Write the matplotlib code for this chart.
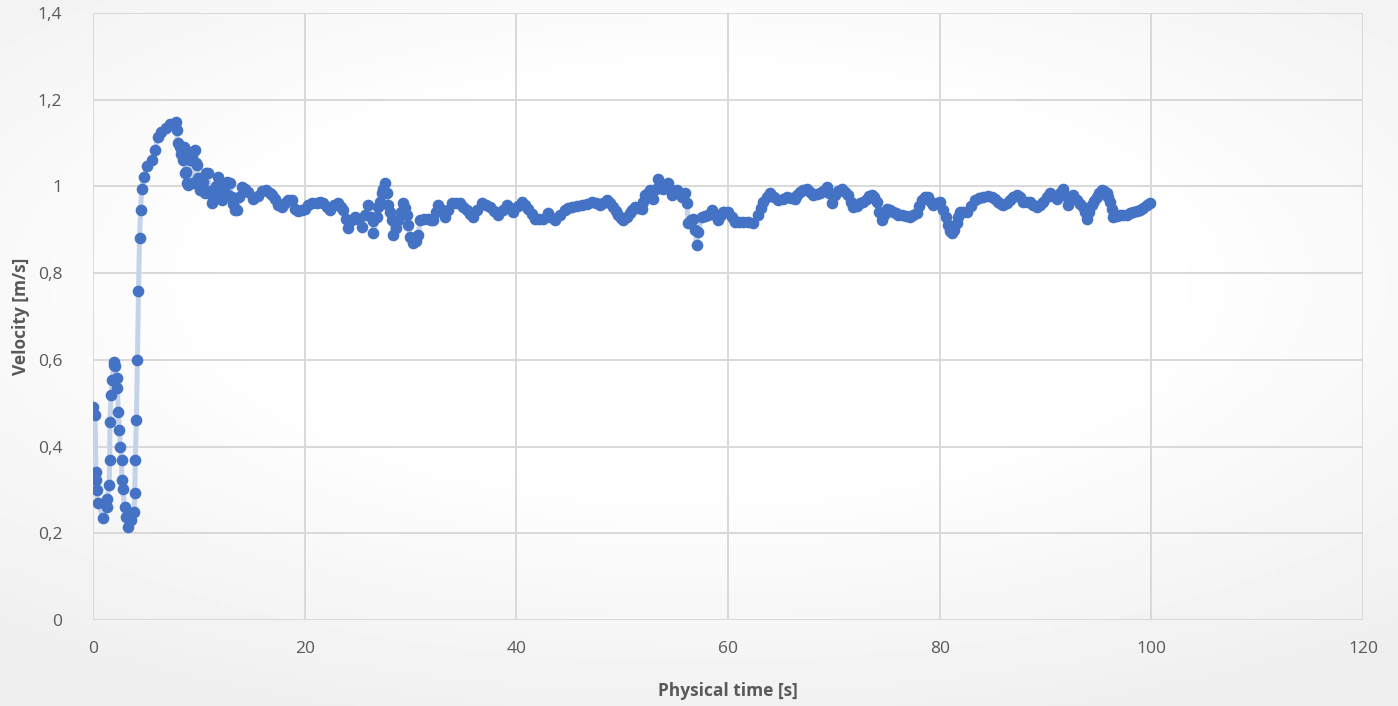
import matplotlib.pyplot as plt
import numpy as np

# time [s] and velocity [m/s] (first pass)
time_s = [
    0.03, 0.19, 0.28, 0.30, 0.35, 0.45, 0.97, 1.29, 1.34, 1.54, 1.58, 1.60, 1.70,
    1.80, 1.96, 2.00, 2.10, 2.25, 2.30, 2.40, 2.50, 2.60, 2.70, 2.72, 2.80, 3.00,
    3.15, 3.30, 3.60, 3.90, 3.95, 4.00, 4.10, 4.20, 4.30, 4.40, 4.50, 4.60, 4.80,
    5.10, 5.60, 5.90, 6.10, 6.40, 6.90, 7.30, 7.80, 7.90, 8.00, 8.20, 8.35, 8.50,
    8.70, 8.85, 9.20, 9.40, 9.60, 9.80, 10.1, 10.4, 10.7, 11.0, 11.2, 11.5, 11.8,
    12.0, 12.2, 12.5, 12.9, 13.1, 13.4,
    14.05, 14.68, 15.15, 15.94, 16.73, 17.2, 17.5, 18.14, 18.77, 19.09, 19.72,
    20.35, 21.14, 21.77, 22.4, 23.18, 23.66, 24.13, 24.76, 25.4, 26.0, 26.5,
    26.96, 27.27, 27.59, 27.74, 27.9, 28.22, 28.37, 28.85, 29.32, 29.63, 29.95,
    30.26, 30.74, 30.9, 31.68, 32.15, 32.63, 33.26, 33.89, 34.67, 35.3, 35.93,
    36.72, 37.51, 38.3, 39.08, 39.71, 40.5, 41.13, 41.76, 42.55, 43.02, 43.65,
    44.6, 45.23, 46.17, 47.12, 47.91, 48.54, 49.17, 49.64, 50.11, 50.74, 51.21,
    51.84, 52.16, 52.63, 52.95, 53.42, 53.89, 54.36, 54.68, 55.15, 55.62, 55.94,
    56.1, 56.25, 56.73, 57.04, 57.2, 57.51, 58.14, 58.46, 59.09, 59.56,
    60.04, 60.67, 61.45, 62.4, 62.87, 63.34, 63.97, 64.76, 65.55, 66.34, 66.81,
    67.44, 68.07, 68.7, 69.33, 69.8, 70.12, 70.75, 71.38, 71.85, 72.48, 73.11,
    73.58, 74.05, 74.53, 75.0, 75.63, 76.1, 76.41, 77.2, 77.83, 78.3, 78.93,
    79.4, 80.03, 80.35, 80.82, 81.13, 81.61, 81.92, 82.55, 83.34, 84.13, 84.91,
    85.54, 86.02, 86.65, 87.28, 87.91, 88.54, 89.17, 89.8, 90.43, 91.06, 91.69,
    92.16, 92.63, 92.95, 93.58, 93.9, 94.37, 94.84, 95.31, 95.79, 96.1, 96.42,
    97.04, 97.67, 98.3, 98.93, 99.56, 99.88,
]
velocity = [
    0.492, 0.473, 0.342, 0.323, 0.300, 0.270, 0.235, 0.261, 0.280, 0.311, 0.369, 0.457, 0.519,
    0.553, 0.588, 0.596, 0.585, 0.558, 0.535, 0.480, 0.438, 0.400, 0.369, 0.323, 0.302, 0.261,
    0.238, 0.215, 0.230, 0.250, 0.292, 0.369, 0.461, 0.600, 0.759, 0.882, 0.946, 0.993, 1.022,
    1.046, 1.061, 1.084, 1.115, 1.126, 1.134, 1.145, 1.149, 1.130, 1.100, 1.092, 1.075, 1.060,
    1.030, 1.008, 1.060, 1.070, 1.084, 1.050, 0.992, 1.010, 1.030, 0.990, 0.961, 0.990, 1.022,
    1.000, 0.969, 0.985, 1.007, 0.975, 0.946,
    0.999, 0.988, 0.972, 0.990, 0.984, 0.972, 0.957, 0.961, 0.968, 0.949, 0.945,
    0.957, 0.961, 0.961, 0.945, 0.961, 0.945, 0.903, 0.930, 0.907, 0.957, 0.892,
    0.953, 0.984, 1.007, 0.984, 0.957, 0.922, 0.888, 0.922, 0.961, 0.934, 0.884,
    0.869, 0.888, 0.922, 0.926, 0.922, 0.957, 0.930, 0.961, 0.961, 0.945, 0.930,
    0.961, 0.953, 0.934, 0.957, 0.942, 0.965, 0.949, 0.926, 0.926, 0.938, 0.922,
    0.945, 0.953, 0.957, 0.965, 0.957, 0.968, 0.953, 0.934, 0.922, 0.938, 0.953,
    0.949, 0.980, 0.992, 0.972, 1.016, 0.995, 1.007, 0.980, 0.992, 0.976, 0.984,
    0.961, 0.915, 0.926, 0.866, 0.895, 0.930, 0.934, 0.945, 0.922, 0.942,
    0.942, 0.919, 0.919, 0.915, 0.934, 0.965, 0.984, 0.968, 0.976, 0.972, 0.988,
    0.995, 0.980, 0.984, 0.999, 0.961, 0.980, 0.995, 0.980, 0.953, 0.961, 0.972,
    0.980, 0.965, 0.922, 0.949, 0.942, 0.934, 0.934, 0.930, 0.938, 0.968, 0.976,
    0.957, 0.965, 0.945, 0.911, 0.892, 0.915, 0.942, 0.942, 0.968, 0.976, 0.976,
    0.965, 0.957, 0.968, 0.980, 0.965, 0.965, 0.953, 0.965, 0.984, 0.972, 0.995,
    0.957, 0.980, 0.968, 0.953, 0.926, 0.957, 0.976, 0.992, 0.984, 0.965, 0.930,
    0.934, 0.934, 0.942, 0.945, 0.957, 0.961,
]

# second pass: readings between the first-pass samples
time_s_extra = [
    8.6, 8.75, 9.0, 9.3, 9.48, 9.7, 9.9, 10.25, 10.55, 10.85, 11.1, 11.35, 11.65,
    11.95, 12.35, 12.65, 12.8, 13.25, 13.6, 13.8,
    14.37, 15.56, 16.32, 16.95, 17.83, 18.46, 19.4, 20.03, 20.73, 21.45, 22.08,
    22.8, 23.43, 23.88, 24.44, 25.07, 25.7, 26.27, 26.42, 26.8, 27.11, 27.43,
    28.06, 28.63, 29.07, 29.48, 29.79, 30.5, 31.27, 31.9, 32.4, 32.94, 33.57,
    34.3, 34.99, 35.62, 36.31, 37.13, 37.89, 38.7, 39.4, 40.12, 40.82, 41.45,
    42.17, 43.18, 44.13, 44.91, 45.7, 46.65, 47.5, 48.22, 48.85, 49.39, 49.89,
    50.43, 50.96, 51.53, 52.0, 52.41, 53.2, 53.67, 54.11, 54.52, 54.93, 55.4,
    56.5, 56.88, 57.83, 58.77, 59.34, 59.63, 60.35, 61.08, 61.93, 63.12, 63.66,
    64.35, 65.17, 65.93, 66.56, 67.12, 67.75, 68.38, 69.01, 69.58, 70.43, 71.06,
    71.6, 72.16, 72.79, 73.36, 73.8, 74.3, 74.75, 75.31, 75.88, 76.79, 77.51,
    78.05, 78.61, 79.18, 79.72, 80.57, 80.98, 81.39, 81.76, 82.24, 82.96, 83.72,
    84.54, 85.23, 85.8, 86.33, 86.96, 87.59, 88.22, 88.85, 89.48, 90.11, 90.74,
    91.37, 91.91, 93.26, 93.74, 94.15, 94.59, 95.09, 95.53, 95.94, 96.26, 96.73,
    97.36, 97.99, 98.62, 99.25,
]
velocity_extra = [
    1.090, 1.034, 1.003, 1.080, 1.007, 1.053, 1.020, 1.019, 0.984, 1.030, 0.985, 0.970, 1.000,
    0.976, 1.000, 1.011, 0.980, 0.960, 0.946, 0.975,
    0.993, 0.978, 0.991, 0.980, 0.953, 0.968, 0.944, 0.949, 0.961, 0.965, 0.953,
    0.957, 0.953, 0.926, 0.922, 0.926, 0.934, 0.930, 0.920, 0.930, 0.965, 0.995,
    0.940, 0.905, 0.940, 0.950, 0.910, 0.875, 0.925, 0.922, 0.940, 0.945, 0.945,
    0.962, 0.953, 0.937, 0.945, 0.957, 0.943, 0.945, 0.950, 0.955, 0.957, 0.937,
    0.926, 0.930, 0.935, 0.950, 0.955, 0.960, 0.962, 0.962, 0.962, 0.943, 0.927,
    0.930, 0.946, 0.950, 0.965, 0.985, 0.995, 1.005, 1.000, 0.993, 0.985, 0.984,
    0.922, 0.900, 0.932, 0.935, 0.935, 0.940, 0.930, 0.918, 0.917, 0.950, 0.975,
    0.975, 0.972, 0.974, 0.980, 0.992, 0.988, 0.982, 0.990, 0.985, 0.990, 0.988,
    0.965, 0.955, 0.965, 0.978, 0.975, 0.940, 0.935, 0.946, 0.938, 0.932, 0.935,
    0.955, 0.975, 0.965, 0.962, 0.930, 0.898, 0.900, 0.930, 0.942, 0.955, 0.973,
    0.977, 0.972, 0.960, 0.962, 0.975, 0.975, 0.965, 0.958, 0.958, 0.975, 0.978,
    0.985, 0.978, 0.960, 0.940, 0.940, 0.967, 0.985, 0.990, 0.975, 0.948, 0.932,
    0.934, 0.938, 0.944, 0.950,
]

x_ticks = [0, 20, 40, 60, 80, 100, 120]
y_ticks = [0, 0.2, 0.4, 0.6, 0.8, 1.0, 1.2, 1.4]
y_tick_labels = ["0", "0,2", "0,4", "0,6", "0,8", "1", "1,2", "1,4"]

# merge both passes in time order
t_all = np.array(time_s + time_s_extra)
v_all = np.array(velocity + velocity_extra)
order = np.argsort(t_all, kind="stable")
t_all, v_all = t_all[order], v_all[order]

plt.rcParams["font.family"] = ["Open Sans", "DejaVu Sans"]
text_grey = "#595959"

fig = plt.figure(figsize=(13.98, 7.06), dpi=100)

# soft radial background like the spreadsheet chart area
bg = fig.add_axes([0, 0, 1, 1], zorder=-10)
gx, gy = np.meshgrid(np.linspace(-1, 1, 400), np.linspace(-1, 1, 200))
r = np.sqrt((gx * 0.85) ** 2 + (gy + 0.2) ** 2)
shade = 1 - 0.065 * np.clip((r - 0.55) / 0.8, 0, 1)
bg.imshow(shade, cmap="gray", vmin=0, vmax=1,
          aspect="auto", extent=[0, 1, 0, 1], origin="upper")
bg.axis("off")

ax = fig.add_axes([0.0665, 0.1218, 0.9085, 0.8598])
ax.set_facecolor("none")

ax.plot(t_all, v_all, color="#c5d3ea", linewidth=3.6, zorder=2,
        solid_capstyle="round")
ax.plot(t_all, v_all, linestyle="none", marker="o", markersize=8.4,
        color="#4472c4", markeredgewidth=0, zorder=3)

ax.set_xlim(0, 120)
ax.set_ylim(0, 1.4)
ax.set_xticks(x_ticks)
ax.set_yticks(y_ticks)
ax.set_yticklabels(y_tick_labels)
ax.grid(True, color="#d9d9d9", linewidth=1.4)
ax.set_axisbelow(True)
for side in ax.spines.values():
    side.set_visible(False)
ax.tick_params(length=0, labelsize=12.5, labelcolor=text_grey, pad=15)
ax.tick_params(axis="y", pad=22)

ax.set_xlabel("Physical time [s]", fontsize=12.5, fontweight="bold",
              color=text_grey, labelpad=18)
ax.set_ylabel("Velocity [m/s]", fontsize=12.5, fontweight="bold",
              color=text_grey, labelpad=6)

fig.savefig("out.png", dpi=100)
